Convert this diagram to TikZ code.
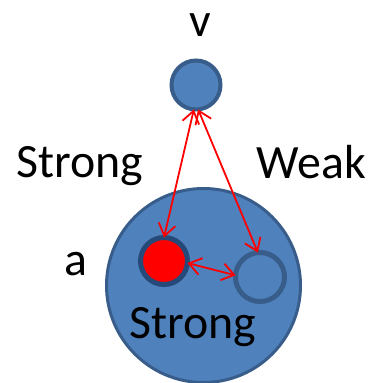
\documentclass[tikz,border=0pt]{standalone}
\usepackage{fontspec}
\setmainfont{Carlito}
\usetikzlibrary{arrows.meta}
\definecolor{fillblue}{HTML}{4F81BD}
\definecolor{edgeblue}{HTML}{385D8A}
\definecolor{darkedge}{HTML}{254A7A}
\definecolor{pred}{HTML}{FF0000}
\tikzset{
  lbl/.style={font=\fontsize{48}{52}\selectfont, inner sep=0pt, anchor=base, text=black},
  rel/.style={draw=pred, line width=1.8bp, {Straight Barb[length=12bp,width=17bp]}-{Straight Barb[length=12bp,width=17bp]}},
  ball/.style={circle, inner sep=0pt, outer sep=0pt}
}
\begin{document}
\begin{tikzpicture}[x=1bp,y=-1bp]
\useasboundingbox (0,0) rectangle (369,383);
\node[ball, draw=edgeblue, fill=fillblue, line width=3bp, minimum size=194bp] (big) at (203.5,285.5) {};
\node[ball, draw=edgeblue, fill=fillblue, line width=4bp, minimum size=49bp] (v) at (196,85) {};
\node[ball, draw=darkedge, fill=pred, line width=5bp, minimum size=47bp] (red) at (164,261) {};
\node[ball, draw=edgeblue, line width=5bp, minimum size=49bp] (hol) at (260,277) {};
\draw[rel] (v.-95) -- (red.north);
\draw[rel] (v.-85) -- (hol.95);
\draw[rel] (red.-5) -- (hol.176);
\node[lbl] (tv) at (200,36) {v};
\node[lbl] (ts) at (79.5,177) {Strong};
\node[lbl] (tw) at (311.5,178) {Weak};
\node[lbl] (ta) at (75.5,275) {a};
\node[lbl] (ti) at (192.5,338) {Strong};
\end{tikzpicture}
\end{document}
